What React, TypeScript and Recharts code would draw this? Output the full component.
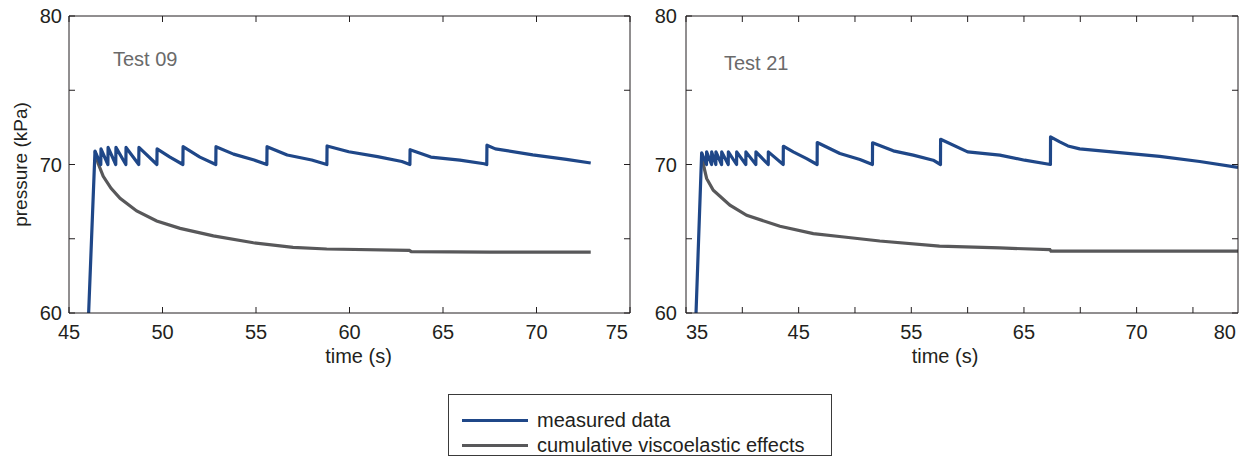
import React from 'react';
import { LineChart, Line, XAxis, YAxis } from 'recharts';

// ---- data (time s, pressure kPa) ----
const test09Measured: [number, number][] = [
  [46.05, 60], [46.39, 70.9], [46.7, 70.0], [46.71, 71.05], [47.08, 70.0], [47.09, 71.15],
  [47.5, 70.0], [47.51, 71.15], [48.04, 70.0], [48.05, 71.15], [48.73, 70.0], [48.74, 71.15],
  [49.7, 70.0], [49.71, 71.05], [50.4, 70.5], [51.09, 70.0], [51.1, 71.2], [52.0, 70.5],
  [52.85, 70.0], [52.86, 71.2], [53.8, 70.7], [54.9, 70.3], [55.58, 70.0], [55.59, 71.2],
  [56.67, 70.64], [57.98, 70.3], [58.79, 70.0], [58.8, 71.25], [59.96, 70.86], [61.5, 70.53],
  [62.8, 70.2], [63.23, 70.0], [63.24, 71.0], [64.35, 70.5], [65.9, 70.3], [67.2, 70.05],
  [67.34, 70.0], [67.35, 71.3], [67.8, 71.05], [69.8, 70.65], [71.6, 70.35], [72.9, 70.1],
];
const test09Viscoelastic: [number, number][] = [
  [46.39, 70.9], [46.55, 70.1], [46.83, 69.2], [47.25, 68.4], [47.73, 67.72], [48.62, 66.87],
  [49.69, 66.2], [50.94, 65.7], [52.72, 65.19], [54.86, 64.73], [56.98, 64.42], [58.78, 64.31],
  [63.2, 64.22], [63.3, 64.13], [67.5, 64.1], [72.9, 64.1],
];
const test21Measured: [number, number][] = [
  [35.89, 60], [36.39, 70.78], [36.82, 70.0], [36.83, 70.85], [37.27, 70.0], [37.28, 70.85],
  [37.65, 70.0], [37.66, 70.85], [38.16, 70.0], [38.17, 70.85], [38.75, 70.0], [38.76, 70.85],
  [39.49, 70.0], [39.5, 70.85], [40.31, 70.0], [40.32, 70.85], [41.2, 70.0], [41.21, 70.85],
  [42.3, 70.0], [42.31, 70.85], [43.63, 70.0], [43.64, 71.23], [44.52, 70.85], [45.71, 70.4],
  [46.64, 70.0], [46.65, 71.48], [48.66, 70.74], [50.44, 70.34], [51.55, 70.0], [51.56, 71.46],
  [53.4, 70.92], [55.17, 70.63], [56.94, 70.29], [57.59, 70.0], [57.6, 71.7], [60.0, 70.85],
  [62.86, 70.63], [65.06, 70.29], [67.35, 70.0], [67.36, 71.86], [68.18, 71.52], [68.9, 71.25],
  [69.95, 71.05], [73.5, 70.8], [77.05, 70.55], [80.6, 70.2], [84.0, 69.8],
];
const test21Viscoelastic: [number, number][] = [
  [36.39, 70.78], [36.6, 69.8], [36.83, 69.06], [37.42, 68.27], [38.9, 67.26], [40.39, 66.58],
  [43.34, 65.84], [46.3, 65.35], [49.02, 65.12], [52.2, 64.85], [57.5, 64.5], [62.86, 64.38],
  [67.3, 64.27], [67.4, 64.16], [84.0, 64.16],
];

const test09Domain: [number, number] = [45, 75];
const test21Domain: [number, number] = [35, 84];
const test09XTicks = [45, 50, 55, 60, 65, 70, 75];
const test09XLabelValues = [45, 50, 55, 60, 65, 70, 75];
const test09XLabelTexts = ['45', '50', '55', '60', '65', '70', '75'];
const test21XTicks = [35, 40, 45, 50, 55, 60, 65, 70, 75, 80];
const test21XLabelValues = [35, 45, 55, 65, 75, 84];
const test21XLabelTexts = ['35', '45', '55', '65', '70', '80'];
const yDomain: [number, number] = [60, 80];
const yTicks = [60, 65, 70, 75, 80];
const yLabelValues = [60, 70, 80];

const seriesNames = ['measured data', 'cumulative viscoelastic effects'];
const seriesColors = ['#1f4788', '#58585a'];

const AXIS = '#231f20';
const TEXT = '#231f20';
const FONT = 20;

function XTick(props: any) {
  const { x, y, payload, labelValues, labelTexts, domain, startAnchor } = props;
  const v = payload.value;
  const idx = labelValues.indexOf(v);
  const txt = idx >= 0 ? labelTexts[idx] : '';
  let anchor = 'middle';
  if (v === domain[0]) anchor = startAnchor;
  if (v === domain[1]) anchor = 'end';
  return (
    <text x={x} y={y} dy="0.71em" textAnchor={anchor} fill={TEXT} fontSize={FONT}>
      {txt}
    </text>
  );
}

const blank = () => '';

function Panel(props: any) {
  const {
    left, width, yAxisWidth, yTickMargin, title, titleX, titleY, measured, visco, domain,
    xTicks, labelValues, labelTexts, startAnchor, xLabelDx, showYLabel,
  } = props;
  const m = measured.map(([t, p]: [number, number]) => ({ t, p }));
  const v = visco.map(([t, p]: [number, number]) => ({ t, p }));
  return (
    <div style={{ position: 'absolute', left, top: 0, width, height: 380 }}>
      <LineChart width={width} height={380} margin={{ top: 16, right: 6, bottom: 17, left: 0 }}>
        <XAxis
          xAxisId="x" dataKey="t" type="number" domain={domain} allowDataOverflow
          ticks={xTicks} tickFormatter={blank} mirror tickSize={6} height={20}
          axisLine={{ stroke: AXIS }} tickLine={{ stroke: AXIS }}
        />
        <XAxis
          xAxisId="xl" dataKey="t" type="number" domain={domain} allowDataOverflow
          ticks={labelValues} tickLine={false} axisLine={false} tickSize={0} tickMargin={12} height={50}
          tick={<XTick labelValues={labelValues} labelTexts={labelTexts} domain={domain} startAnchor={startAnchor} />}
          label={{ value: 'time (s)', position: 'insideBottom', offset: 0, dx: xLabelDx, fill: TEXT, fontSize: FONT }}
        />
        <XAxis
          xAxisId="xt" orientation="top" dataKey="t" type="number" domain={domain} allowDataOverflow
          ticks={xTicks} tickFormatter={blank} mirror tickSize={6} height={20}
          axisLine={{ stroke: AXIS }} tickLine={{ stroke: AXIS }}
        />
        <YAxis
          yAxisId="y" type="number" domain={yDomain} allowDataOverflow ticks={yTicks}
          width={yAxisWidth} tickSize={-6} tickMargin={yTickMargin}
          tickFormatter={(val: number) => (yLabelValues.includes(val) ? String(val) : '')}
          tick={{ fill: TEXT, fontSize: FONT }}
          axisLine={{ stroke: AXIS }} tickLine={{ stroke: AXIS }}
          label={showYLabel ? { value: 'pressure (kPa)', angle: -90, position: 'insideLeft', offset: 20, style: { textAnchor: 'middle' }, fill: TEXT, fontSize: 19 } : undefined}
        />
        <YAxis
          yAxisId="yr" orientation="right" type="number" domain={yDomain} allowDataOverflow ticks={yTicks}
          width={20} mirror tickFormatter={blank} tickSize={6}
          axisLine={{ stroke: AXIS }} tickLine={{ stroke: AXIS }}
        />
        <Line
          data={v} dataKey="p" xAxisId="x" yAxisId="y" type="linear" dot={false}
          stroke={seriesColors[1]} strokeWidth={3.2} isAnimationActive={false} name={seriesNames[1]}
        />
        <Line
          data={m} dataKey="p" xAxisId="x" yAxisId="y" type="linear" dot={false}
          stroke={seriesColors[0]} strokeWidth={3.2} isAnimationActive={false} name={seriesNames[0]}
          strokeLinejoin="round"
        />
      </LineChart>
      <svg width={width} height={380} style={{ position: 'absolute', left: 0, top: 0, pointerEvents: 'none' }}>
        <text x={titleX} y={titleY} fill="#6a6a6a" fontSize={FONT}>{title}</text>
      </svg>
    </div>
  );
}

export default function App() {
  return (
    <div style={{ position: 'absolute', left: 0, top: 0, width: 1244, height: 457, background: '#fff', fontFamily: "'Liberation Sans', Arial, sans-serif" }}>
      <Panel
        left={0} width={636} yAxisWidth={69} yTickMargin={13} title="Test 09" titleX={113} titleY={66}
        measured={test09Measured} visco={test09Viscoelastic} domain={test09Domain}
        xTicks={test09XTicks} labelValues={test09XLabelValues} labelTexts={test09XLabelTexts}
        startAnchor="middle" xLabelDx={9} showYLabel
      />
      <Panel
        left={636} width={608} yAxisWidth={50} yTickMargin={15} title="Test 21" titleX={88} titleY={70}
        measured={test21Measured} visco={test21Viscoelastic} domain={test21Domain}
        xTicks={test21XTicks} labelValues={test21XLabelValues} labelTexts={test21XLabelTexts}
        startAnchor="start" xLabelDx={-17} showYLabel={false}
      />
      <div style={{ position: 'absolute', left: 448, top: 394, width: 384, height: 62, boxSizing: 'border-box', border: '1px solid #3a3a3a', background: '#fff' }}>
        {seriesNames.map((name, i) => (
          <div key={name} style={{ position: 'absolute', left: 13, top: 14 + i * 25, height: 22, display: 'flex', alignItems: 'center' }}>
            <div style={{ width: 66, height: 3, background: seriesColors[i] }} />
            <span style={{ marginLeft: 9, fontSize: 20, color: TEXT, whiteSpace: 'nowrap', lineHeight: '22px' }}>{name}</span>
          </div>
        ))}
      </div>
    </div>
  );
}
